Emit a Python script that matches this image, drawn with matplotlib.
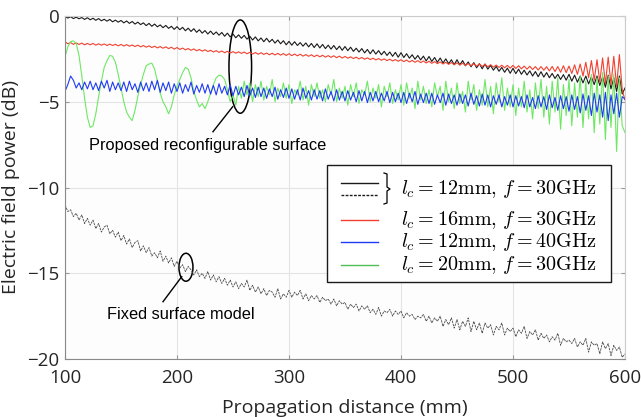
import numpy as np
import matplotlib
matplotlib.use("Agg")
import matplotlib.pyplot as plt
from matplotlib.patches import Ellipse, Rectangle
from matplotlib.lines import Line2D

plt.rcParams['mathtext.fontset'] = 'cm'

# propagation distance sampled every 2.5 mm
dist = np.arange(100, 600.1, 2.5)

# proposed surface, l_c = 12mm, f = 30GHz
black_solid = [
    -0.02, -0.12, -0.04, -0.15, -0.07, -0.16, -0.09, -0.2, -0.1, -0.22,
    -0.13, -0.25, -0.15, -0.28, -0.19, -0.3, -0.2, -0.34, -0.24, -0.36,
    -0.26, -0.4, -0.29, -0.43, -0.32, -0.47, -0.36, -0.5, -0.4, -0.56,
    -0.43, -0.6, -0.47, -0.63, -0.52, -0.68, -0.55, -0.72, -0.6, -0.78,
    -0.62, -0.8, -0.66, -0.86, -0.71, -0.9, -0.74, -0.95, -0.8, -1.0,
    -0.85, -1.05, -0.88, -1.08, -0.93, -1.12, -0.96, -1.18, -1.0, -1.22,
    -1.05, -1.27, -1.1, -1.3, -1.13, -1.35, -1.18, -1.4, -1.22, -1.45,
    -1.28, -1.5, -1.3, -1.52, -1.36, -1.58, -1.4, -1.62, -1.44, -1.68,
    -1.48, -1.7, -1.5, -1.72, -1.55, -1.76, -1.57, -1.8, -1.6, -1.84,
    -1.62, -1.86, -1.66, -1.9, -1.7, -1.93, -1.72, -1.96, -1.76, -2.0,
    -1.78, -2.02, -1.82, -2.06, -1.88, -2.1, -1.9, -2.15, -1.95, -2.2,
    -1.97, -2.22, -2.02, -2.26, -2.06, -2.3, -2.1, -2.35, -2.12, -2.4,
    -2.14, -2.42, -2.2, -2.46, -2.26, -2.52, -2.3, -2.56, -2.34, -2.62,
    -2.36, -2.65, -2.42, -2.7, -2.45, -2.74, -2.5, -2.78, -2.55, -2.84,
    -2.55, -2.85, -2.6, -2.9, -2.68, -2.96, -2.72, -3.02, -2.78, -3.08,
    -2.8, -3.1, -2.88, -3.16, -2.94, -3.22, -3.0, -3.28, -3.04, -3.34,
    -3.05, -3.36, -3.1, -3.4, -3.16, -3.44, -3.2, -3.5, -3.24, -3.54,
    -3.25, -3.56, -3.3, -3.6, -3.35, -3.64, -3.4, -3.7, -3.42, -3.74,
    -3.4, -3.8, -3.45, -3.86, -3.5, -3.9, -3.5, -3.96, -3.55, -4.0,
    -3.5, -4.05, -3.55, -4.15, -3.45, -4.25, -3.6, -4.4, -3.5, -4.55,
    -4.2]

# fixed surface model, l_c = 12mm, f = 30GHz
black_dashed = [
    -11.0, -11.4, -11.3, -11.7, -11.5, -11.9, -11.6, -12.1, -11.8, -12.2,
    -11.9, -12.4, -12.1, -12.6, -12.3, -12.2, -12.7, -12.5, -12.9, -12.6,
    -13.1, -12.8, -13.3, -13.0, -13.5, -13.2, -13.1, -13.7, -13.4, -13.8,
    -13.5, -14.0, -13.8, -14.1, -13.7, -14.3, -14.0, -14.4, -14.1, -14.6,
    -14.3, -14.7, -14.5, -14.9, -14.6, -14.8, -15.1, -14.8, -15.2, -15.0,
    -15.3, -14.9, -15.4, -15.1, -15.5, -15.2, -15.6, -15.3, -15.7, -15.4,
    -15.8, -15.5, -15.9, -15.6, -15.8, -15.4, -16.0, -15.7, -16.1, -15.8,
    -16.2, -15.9, -16.3, -16.0, -16.1, -16.4, -15.9, -16.5, -16.2, -16.4,
    -16.0, -16.4, -16.1, -16.3, -16.0, -16.5, -16.2, -16.6, -16.3, -16.5,
    -16.3, -16.7, -16.4, -16.6, -16.5, -16.8, -16.5, -16.9, -16.6, -16.8,
    -16.7, -17.1, -16.8, -17.0, -16.8, -17.2, -16.9, -17.1, -16.9, -17.3,
    -17.1, -17.4, -17.0, -17.5, -17.2, -17.3, -17.1, -17.5, -17.2, -17.4,
    -17.2, -17.6, -17.3, -17.5, -17.4, -17.7, -17.5, -17.6, -17.4, -17.8,
    -17.5, -17.9, -17.6, -17.8, -17.5, -18.1, -17.7, -18.0, -17.6, -18.2,
    -17.7, -18.3, -17.8, -18.1, -17.6, -18.4, -17.8, -18.3, -17.9, -18.5,
    -17.9, -18.2, -18.0, -18.6, -18.1, -18.3, -17.9, -18.6, -18.2, -18.4,
    -18.2, -18.7, -18.3, -18.5, -18.1, -18.8, -18.4, -18.6, -18.3, -18.9,
    -18.5, -18.8, -18.6, -19.0, -18.7, -18.9, -18.5, -19.2, -18.8, -19.0,
    -18.9, -19.1, -18.8, -19.3, -19.0, -19.2, -18.8, -19.6, -19.0, -19.2,
    -19.1, -19.7, -19.0, -19.4, -19.1, -19.8, -19.2, -19.5, -19.3, -19.9,
    -19.7]

# l_c = 16mm, f = 30GHz
red = [
    -1.5, -1.62, -1.55, -1.65, -1.57, -1.66, -1.58, -1.68, -1.6, -1.68,
    -1.6, -1.7, -1.62, -1.7, -1.63, -1.72, -1.64, -1.72, -1.65, -1.74,
    -1.66, -1.75, -1.67, -1.76, -1.69, -1.78, -1.7, -1.8, -1.72, -1.82,
    -1.74, -1.84, -1.76, -1.86, -1.78, -1.88, -1.8, -1.9, -1.82, -1.93,
    -1.84, -1.95, -1.87, -1.97, -1.9, -2.0, -1.92, -2.03, -1.95, -2.05,
    -1.97, -2.07, -2.0, -2.1, -2.02, -2.12, -2.04, -2.14, -2.06, -2.16,
    -2.08, -2.17, -2.09, -2.18, -2.1, -2.2, -2.12, -2.22, -2.13, -2.23,
    -2.14, -2.24, -2.16, -2.26, -2.17, -2.27, -2.18, -2.28, -2.19, -2.3,
    -2.2, -2.31, -2.22, -2.32, -2.23, -2.34, -2.25, -2.35, -2.26, -2.37,
    -2.28, -2.38, -2.29, -2.4, -2.31, -2.41, -2.32, -2.43, -2.34, -2.45,
    -2.36, -2.46, -2.38, -2.48, -2.4, -2.5, -2.42, -2.52, -2.44, -2.54,
    -2.46, -2.56, -2.48, -2.58, -2.5, -2.6, -2.52, -2.62, -2.54, -2.64,
    -2.55, -2.66, -2.57, -2.68, -2.59, -2.7, -2.6, -2.72, -2.62, -2.74,
    -2.64, -2.76, -2.66, -2.78, -2.68, -2.8, -2.7, -2.82, -2.71, -2.84,
    -2.73, -2.86, -2.75, -2.88, -2.77, -2.9, -2.78, -2.92, -2.8, -2.94,
    -2.82, -2.96, -2.84, -2.98, -2.86, -3.0, -2.87, -3.02, -2.88, -3.04,
    -2.88, -3.06, -2.9, -3.08, -2.92, -3.1, -2.93, -3.12, -2.95, -3.15,
    -2.95, -3.16, -2.96, -3.2, -2.94, -3.24, -2.95, -3.28, -2.9, -3.3,
    -2.92, -3.35, -2.85, -3.4, -2.8, -3.5, -2.7, -3.6, -2.6, -3.75,
    -2.55, -3.85, -2.45, -3.95, -2.4, -4.0, -2.35, -4.1, -2.25, -4.3,
    -4.9]

# l_c = 12mm, f = 40GHz
blue = [
    -4.4, -4.0, -3.5, -3.75, -4.2, -3.9, -4.3, -3.85, -4.25, -3.8,
    -4.3, -3.9, -4.35, -3.8, -4.2, -3.75, -4.4, -3.85, -4.3, -3.9,
    -4.35, -3.85, -4.4, -3.8, -4.3, -3.95, -4.45, -3.85, -4.35, -3.9,
    -4.4, -3.8, -4.3, -3.75, -4.45, -3.9, -4.35, -3.85, -4.5, -3.95,
    -4.4, -3.9, -4.5, -4.0, -4.4, -3.85, -4.55, -4.05, -4.45, -3.95,
    -4.5, -4.0, -4.55, -4.05, -4.6, -3.95, -4.5, -4.1, -4.6, -4.0,
    -4.65, -4.1, -4.6, -4.15, -4.7, -4.05, -4.65, -4.2, -4.75, -4.15,
    -4.7, -4.2, -4.8, -4.25, -4.7, -4.15, -4.85, -4.3, -4.75, -4.2,
    -4.8, -4.25, -4.85, -4.3, -4.9, -4.2, -4.8, -4.35, -4.9, -4.3,
    -4.85, -4.35, -4.95, -4.25, -4.85, -4.4, -4.95, -4.3, -4.9, -4.4,
    -4.95, -4.35, -4.9, -4.45, -5.0, -4.35, -4.95, -4.4, -5.05, -4.45,
    -4.95, -4.4, -5.0, -4.5, -4.95, -4.4, -5.05, -4.45, -5.0, -4.5,
    -5.05, -4.45, -5.1, -4.5, -5.0, -4.4, -5.15, -4.55, -5.05, -4.5,
    -5.1, -4.5, -5.15, -4.6, -5.05, -4.5, -5.2, -4.55, -5.1, -4.6,
    -5.2, -4.55, -5.1, -4.6, -5.25, -4.5, -5.15, -4.65, -5.25, -4.55,
    -5.2, -4.6, -5.3, -4.65, -5.15, -4.6, -5.3, -4.7, -5.2, -4.6,
    -5.3, -4.65, -5.25, -4.7, -5.35, -4.6, -5.3, -4.75, -5.4, -4.65,
    -5.3, -4.7, -5.45, -4.6, -5.35, -4.75, -5.5, -4.65, -5.4, -4.7,
    -5.55, -4.6, -5.45, -4.7, -5.65, -4.55, -5.5, -4.65, -5.8, -4.5,
    -5.6, -4.6, -5.9, -4.45, -6.1, -4.6, -5.7, -4.5, -5.9, -4.7,
    -4.85]

# l_c = 20mm, f = 30GHz
green = [
    -2.4, -1.8, -1.5, -1.45, -1.6, -2.3, -3.5, -4.8, -5.9, -6.5,
    -6.4, -5.7, -4.7, -3.8, -3.0, -2.6, -2.3, -2.35, -2.7, -3.4,
    -4.2, -5.0, -5.6, -5.9, -6.1, -5.5, -4.7, -4.0, -3.4, -2.9,
    -2.8, -2.75, -3.1, -3.8, -4.5, -5.0, -5.3, -5.7, -5.3, -4.6,
    -4.1, -3.7, -3.3, -3.0, -3.1, -3.6, -4.4, -4.9, -5.3, -5.1,
    -5.4, -5.0, -4.5, -4.0, -3.6, -3.45, -3.5, -3.7, -4.3, -5.0,
    -4.6, -5.2, -4.1, -4.8, -3.8, -4.6, -3.9, -5.0, -4.0, -4.7,
    -3.8, -4.9, -4.1, -4.6, -3.7, -5.0, -4.2, -4.7, -3.9, -4.8,
    -4.0, -5.1, -4.3, -4.6, -3.8, -4.9, -4.1, -5.2, -4.0, -4.7,
    -3.9, -4.8, -4.3, -5.0, -4.0, -4.6, -3.7, -5.0, -4.2, -4.8,
    -4.1, -5.2, -4.0, -4.7, -3.9, -5.1, -4.3, -4.6, -3.8, -5.0,
    -4.2, -4.8, -4.0, -5.3, -4.1, -4.7, -3.9, -5.1, -4.3, -4.9,
    -4.0, -5.2, -3.9, -4.8, -4.2, -5.4, -3.8, -4.9, -4.1, -5.1,
    -4.3, -5.3, -3.9, -4.7, -4.1, -5.5, -3.8, -5.0, -4.2, -5.4,
    -3.9, -5.1, -4.4, -5.6, -3.8, -4.9, -4.0, -5.5, -4.3, -5.2,
    -3.7, -5.3, -4.1, -5.7, -3.9, -5.0, -3.6, -5.5, -4.2, -5.3,
    -4.0, -5.8, -4.2, -5.3, -3.8, -5.6, -4.3, -6.0, -3.9, -5.4,
    -3.7, -5.9, -4.1, -6.3, -3.8, -5.6, -3.6, -6.6, -4.0, -5.8,
    -3.7, -6.4, -3.9, -5.9, -3.5, -6.5, -3.8, -6.0, -3.4, -6.8,
    -3.6, -6.3, -3.3, -7.2, -3.5, -6.5, -3.4, -7.9, -3.6, -6.4,
    -6.8]

legend_labels = [r'$l_c = 12\mathrm{mm},\, f = 30\mathrm{GHz}$',
                 r'$l_c = 16\mathrm{mm},\, f = 30\mathrm{GHz}$',
                 r'$l_c = 12\mathrm{mm},\, f = 40\mathrm{GHz}$',
                 r'$l_c = 20\mathrm{mm},\, f = 30\mathrm{GHz}$']

c_black = '#1a1a1a'
c_red = '#f2402f'
c_blue = '#1f3cf5'
c_green = '#6ee864'

fig = plt.figure(figsize=(6.41, 4.17), dpi=100)
ax = fig.add_axes([65/641, 1-359/417, 560/641, 343/417])
ax.set_facecolor('#fdfdfd')

ax.plot(dist, black_dashed, color='#4d4d4d', lw=0.6, ls=(0, (3, 1)))
ax.plot(dist, black_solid, color=c_black, lw=0.8)
ax.plot(dist, red, color=c_red, lw=0.8)
ax.plot(dist, green, color=c_green, lw=0.8)
ax.plot(dist, blue, color=c_blue, lw=0.8)

ax.set_xlim(100, 600)
ax.set_ylim(-20, 0)
ax.set_xticks([100, 200, 300, 400, 500, 600])
ax.set_yticks([-20, -15, -10, -5, 0])
ax.grid(True, color='#e4e4e4', lw=0.8)
ax.set_axisbelow(True)

for s in ['left', 'bottom']:
    ax.spines[s].set_color('#8a8a8a')
for s in ['top', 'right']:
    ax.spines[s].set_color('#cccccc')
ax.tick_params(direction='in', length=3, color='#999999', top=True, right=True,
               labelsize=13.5, labelcolor='#262626')
ax.tick_params(axis='x', pad=7)
ax.tick_params(axis='y', pad=4)
for lab in ax.get_xticklabels() + ax.get_yticklabels():
    lab.set_family('Open Sans')

ax.set_xlabel('Propagation distance (mm)', family='Open Sans', fontsize=14,
              color='#262626', labelpad=9)
ax.set_ylabel('Electric field power (dB)', family='Open Sans', fontsize=14,
              color='#262626', labelpad=5)

# annotations
ax.add_patch(Ellipse((256.5, -2.95), 20.2, 5.44, fill=False, ec='black', lw=1.1))
ax.plot([249.7, 232.1], [-5.29, -6.75], color='black', lw=1.0)
ax.text(227.7, -7.58, 'Proposed reconfigurable surface', family='Liberation Sans',
        fontsize=11.8, ha='center', va='center')

ax.add_patch(Ellipse((208, -14.65), 12.5, 1.63, fill=False, ec='black', lw=1.1))
ax.plot([204.2, 187.5], [-15.2, -16.66], color='black', lw=1.0)
ax.text(203.6, -17.43, 'Fixed surface model', family='Liberation Sans',
        fontsize=11.8, ha='center', va='center')

# legend drawn by hand (two line styles share the first entry)
def fx(px):
    return (px - 65) / 560

def fy(py):
    return 1 - (py - 16) / 343

ax.add_patch(Rectangle((fx(327), fy(282)), fx(611) - fx(327), fy(165) - fy(282),
                       transform=ax.transAxes, fc='white', ec='#1a1a1a', lw=1.0,
                       zorder=5))
hx = [fx(341), fx(378)]
handles = [(183, c_black, '-'), (195, c_black, (0, (2, 1))),
           (220, c_red, '-'), (242, c_blue, '-'), (265, '#4fbf55', '-')]
for py, col, ls in handles:
    ax.add_line(Line2D(hx, [fy(py), fy(py)], transform=ax.transAxes, color=col,
                       lw=1.0, ls=ls, zorder=6))
brace_x = [384, 387, 387, 390, 387, 387, 384]
brace_y = [173, 174, 187, 189, 191, 203, 204]
ax.add_line(Line2D([fx(v) for v in brace_x], [fy(v) for v in brace_y],
                   transform=ax.transAxes, color='black', lw=0.9, zorder=6))
text_y = [189, 220, 242, 265]
for py, lab in zip(text_y, legend_labels):
    ax.text(fx(401), fy(py), lab, transform=ax.transAxes, fontsize=14.5,
            va='center', ha='left', zorder=6)

fig.savefig('out.png', dpi=100)
